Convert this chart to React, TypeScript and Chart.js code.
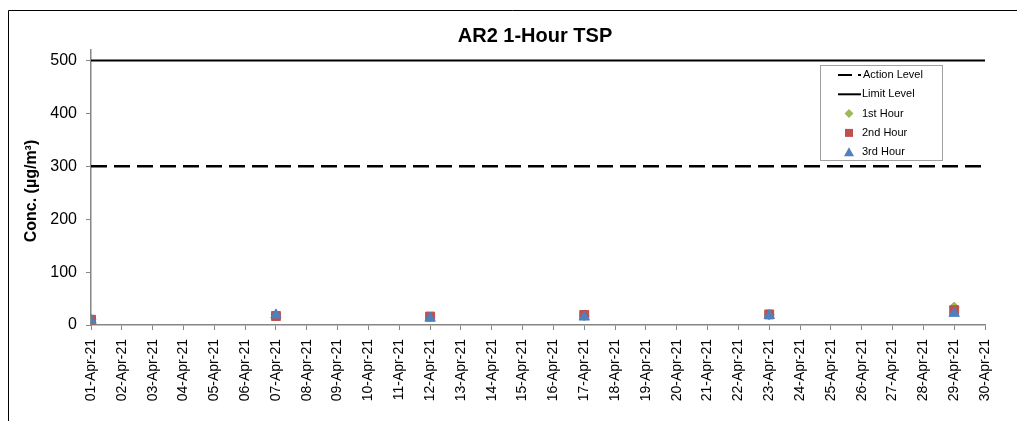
import React, { useEffect, useRef } from 'react';
import { Chart, registerables } from 'chart.js';

Chart.register(...registerables);

const tickLabels = [
  '01-Apr-21', '02-Apr-21', '03-Apr-21', '04-Apr-21', '05-Apr-21', '06-Apr-21',
  '07-Apr-21', '08-Apr-21', '09-Apr-21', '10-Apr-21', '11-Apr-21', '12-Apr-21',
  '13-Apr-21', '14-Apr-21', '15-Apr-21', '16-Apr-21', '17-Apr-21', '18-Apr-21',
  '19-Apr-21', '20-Apr-21', '21-Apr-21', '22-Apr-21', '23-Apr-21', '24-Apr-21',
  '25-Apr-21', '26-Apr-21', '27-Apr-21', '28-Apr-21', '29-Apr-21', '30-Apr-21',
];
const sampleDates = ['01-Apr-21', '07-Apr-21', '12-Apr-21', '17-Apr-21', '23-Apr-21', '29-Apr-21'];
const hour1 = [10, 19, 15, 17, 19, 34];
const hour2 = [10, 17, 16, 19, 20, 28];
const hour3 = [9, 19, 13, 15, 18, 22];
const actionLevel = 300;
const limitLevel = 500;
const yTicks = [0, 100, 200, 300, 400, 500];
const yMax = 520;

const chartTitle = 'AR2 1-Hour TSP';
const yTitle = 'Conc. (µg/m³)';
const legendLabels = ['Action Level', 'Limit Level', '1st Hour', '2nd Hour', '3rd Hour'];

const FONT = '"Liberation Sans", Arial, Helvetica, sans-serif';
const GREEN = '#9BBB59';
const RED = '#C0504D';
const BLUE = '#4F81BD';
const AXIS = '#868686';

export default function App() {
  const ref = useRef<HTMLCanvasElement>(null);

  useEffect(() => {
    if (!ref.current) return;
    const idx = (d: string) => tickLabels.indexOf(d);
    const pts = (vals: number[]) => sampleDates.map((d, i) => ({ x: idx(d), y: vals[i] }));
    const lastX = tickLabels.length - 1;

    const decor = {
      id: 'decor',
      afterDraw(chart: any) {
        const ctx = chart.ctx as CanvasRenderingContext2D;
        ctx.save();
        // outer frame (left + top visible)
        ctx.strokeStyle = '#000';
        ctx.lineWidth = 1;
        ctx.setLineDash([]);
        ctx.beginPath();
        ctx.moveTo(8.5, 421);
        ctx.lineTo(8.5, 10.5);
        ctx.lineTo(1017, 10.5);
        ctx.stroke();

        // title
        ctx.fillStyle = '#000';
        ctx.font = `bold 20px ${FONT}`;
        ctx.textAlign = 'center';
        ctx.textBaseline = 'middle';
        ctx.fillText(chartTitle, 535, 36);

        // y title
        ctx.save();
        ctx.translate(32, 191);
        ctx.rotate(-Math.PI / 2);
        ctx.font = `bold 16px ${FONT}`;
        ctx.fillText(yTitle, 0, 0);
        ctx.restore();

        // legend box
        ctx.fillStyle = '#fff';
        ctx.fillRect(820.5, 65.5, 122, 95);
        ctx.strokeStyle = '#A0A0A0';
        ctx.lineWidth = 1;
        ctx.strokeRect(820.5, 65.5, 122, 95);

        const ys = legendLabels.map((_, i) => 75 + i * 19.3);
        const mx = 849;
        // action
        ctx.strokeStyle = '#000';
        ctx.lineWidth = 2;
        ctx.setLineDash([14, 6]);
        ctx.beginPath();
        ctx.moveTo(838, ys[0]);
        ctx.lineTo(861, ys[0]);
        ctx.stroke();
        // limit
        ctx.setLineDash([]);
        ctx.beginPath();
        ctx.moveTo(838, ys[1]);
        ctx.lineTo(861, ys[1]);
        ctx.stroke();
        // diamond
        ctx.fillStyle = GREEN;
        ctx.beginPath();
        ctx.moveTo(mx, ys[2] - 4.5);
        ctx.lineTo(mx + 4.5, ys[2]);
        ctx.lineTo(mx, ys[2] + 4.5);
        ctx.lineTo(mx - 4.5, ys[2]);
        ctx.closePath();
        ctx.fill();
        // square
        ctx.fillStyle = RED;
        ctx.fillRect(mx - 4, ys[3] - 4, 8, 8);
        // triangle
        ctx.fillStyle = BLUE;
        ctx.beginPath();
        ctx.moveTo(mx, ys[4] - 5);
        ctx.lineTo(mx + 5, ys[4] + 4);
        ctx.lineTo(mx - 5, ys[4] + 4);
        ctx.closePath();
        ctx.fill();

        ctx.fillStyle = '#000';
        ctx.font = `11px ${FONT}`;
        ctx.textAlign = 'left';
        ctx.textBaseline = 'middle';
        legendLabels.forEach((t, i) => ctx.fillText(t, i === 0 ? 863 : 862, ys[i]));
        ctx.restore();
      },
    };

    const chart = new Chart(ref.current, {
      type: 'scatter',
      data: {
        datasets: [
          {
            label: legendLabels[0],
            data: [{ x: 0, y: actionLevel }, { x: lastX, y: actionLevel }],
            showLine: true,
            borderColor: '#000',
            borderWidth: 2.5,
            borderDash: [16, 7],
            pointRadius: 0,
            order: 4,
          } as any,
          {
            label: legendLabels[1],
            data: [{ x: 0, y: limitLevel }, { x: lastX, y: limitLevel }],
            showLine: true,
            borderColor: '#000',
            borderWidth: 2,
            pointRadius: 0,
            order: 3,
          },
          {
            label: legendLabels[2],
            data: pts(hour1),
            pointStyle: 'rectRot',
            pointRadius: 5,
            backgroundColor: GREEN,
            borderColor: GREEN,
            borderWidth: 1,
            order: 2,
          },
          {
            label: legendLabels[3],
            data: pts(hour2),
            pointStyle: 'rect',
            pointRadius: 6.3,
            backgroundColor: RED,
            borderColor: RED,
            borderWidth: 1,
            order: 1,
          },
          {
            label: legendLabels[4],
            data: pts(hour3),
            pointStyle: 'triangle',
            pointRadius: 6,
            backgroundColor: BLUE,
            borderColor: BLUE,
            borderWidth: 1,
            order: 0,
          },
        ],
      },
      options: {
        responsive: false,
        animation: false,
        layout: { padding: { left: 0, top: 50, right: 32, bottom: 0 } },
        plugins: {
          legend: { display: false },
          title: { display: false },
          tooltip: { enabled: false },
        },
        scales: {
          x: {
            type: 'linear',
            min: 0,
            max: lastX,
            afterBuildTicks: (s: any) => {
              s.ticks = tickLabels.map((_, i) => ({ value: i }));
            },
            afterFit: (s: any) => {
              s.height = 96;
            },
            grid: {
              display: true,
              drawOnChartArea: false,
              drawTicks: true,
              tickLength: 5,
              color: AXIS,
              lineWidth: 1,
            },
            border: { display: true, color: AXIS, width: 1.5 },
            ticks: {
              autoSkip: false,
              maxRotation: 90,
              minRotation: 90,
              padding: 9,
              color: '#000',
              font: { family: FONT, size: 14 },
              callback: (v: any) => tickLabels[Number(v)] ?? '',
            },
          },
          y: {
            type: 'linear',
            min: 0,
            max: yMax,
            afterBuildTicks: (s: any) => {
              s.ticks = yTicks.map((v) => ({ value: v }));
            },
            afterFit: (s: any) => {
              s.width = 91;
            },
            grid: {
              display: true,
              drawOnChartArea: false,
              drawTicks: true,
              tickLength: 5,
              color: AXIS,
              lineWidth: 1,
            },
            border: { display: true, color: AXIS, width: 1.5 },
            ticks: {
              padding: 9,
              color: '#000',
              font: { family: FONT, size: 16 },
            },
          },
        },
      } as any,
      plugins: [decor],
    });
    return () => chart.destroy();
  }, []);

  return (
    <canvas
      ref={ref}
      width={1017}
      height={421}
      style={{ position: 'fixed', left: 0, top: 0, width: 1017, height: 421 }}
    />
  );
}
